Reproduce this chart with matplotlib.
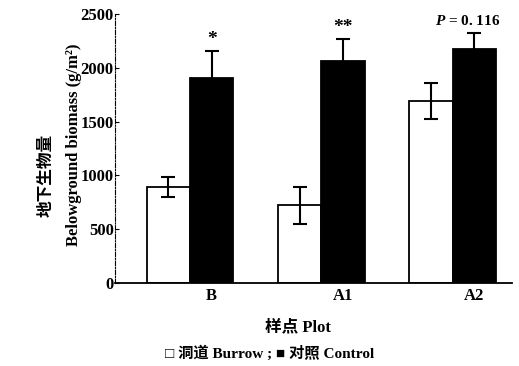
import numpy as np
import matplotlib.pyplot as plt

# données
plots = ['B', 'A1', 'A2']
burrow = [890, 720, 1690]
burrow_err = [90, 175, 165]
control = [1905, 2065, 2175]
control_err = [250, 200, 150]
signif = ['*', '**', r'$P$ = 0. 116']

fam = ['Liberation Serif', 'Noto Sans CJK SC', 'DejaVu Sans']
plt.rcParams['font.family'] = fam
plt.rcParams['font.weight'] = 'bold'
plt.rcParams['mathtext.fontset'] = 'custom'
plt.rcParams['mathtext.it'] = 'Liberation Serif:italic:bold'
plt.rcParams['mathtext.rm'] = 'Liberation Serif:bold'

fig = plt.figure(figsize=(5.19, 3.66), dpi=100)
ax = fig.add_axes([0.222, 0.227, 0.764, 0.735])

x = np.arange(len(plots))
w = 0.33
ax.bar(x - w/2, burrow, w, color='white', edgecolor='black', linewidth=1.3,
       yerr=burrow_err, error_kw=dict(ecolor='black', elinewidth=1.5, capsize=5, capthick=1.5))
ax.bar(x + w/2, control, w, color='black', edgecolor='black', linewidth=1.3,
       yerr=control_err, error_kw=dict(ecolor='black', elinewidth=1.5, capsize=5, capthick=1.5))

# étoiles / P
sizes = [14, 14, 11]
offs = [30, 30, 40]
for i in range(len(plots)):
    ax.text(x[i] + w/2 - (0.05 if i == 2 else 0), control[i] + control_err[i] + offs[i], signif[i],
            ha='center', va='bottom', fontsize=sizes[i], fontweight='bold')

ax.set_xlim(-0.57, 2.45)
ax.set_ylim(0, 2500)
ax.set_yticks([0, 500, 1000, 1500, 2000, 2500])
ax.set_yticklabels(['0', '500', '1000', '1500', '2000', '2500'], fontsize=12, fontweight='bold')
ax.set_xticks(x + w/2)
ax.set_xticklabels(plots, fontsize=12, fontweight='bold')
ax.tick_params(axis='x', length=0, pad=4)
ax.tick_params(axis='y', direction='in', length=3, width=0.8, pad=1)

ax.spines['top'].set_visible(False)
ax.spines['right'].set_visible(False)
ax.spines['left'].set_linestyle((0, (4, 1.5, 1, 1.5)))
ax.spines['left'].set_linewidth(0.8)
ax.spines['bottom'].set_linewidth(1.3)

fig.text(0.09, 0.52, '地下生物量', rotation=90, ha='center', va='center', fontsize=12, fontweight='bold')
fig.text(0.142, 0.605, 'Belowground biomass (g/m²)', rotation=90, ha='center', va='center',
         fontsize=12, fontweight='bold')

fig.text(0.575, 0.105, '样点 Plot', ha='center', va='center', fontsize=12, fontweight='bold')
fig.text(0.52, 0.035, '□ 洞道 Burrow ; ■ 对照 Control', ha='center', va='center',
         fontsize=11, fontweight='bold')

plt.savefig('out.png', dpi=100)
